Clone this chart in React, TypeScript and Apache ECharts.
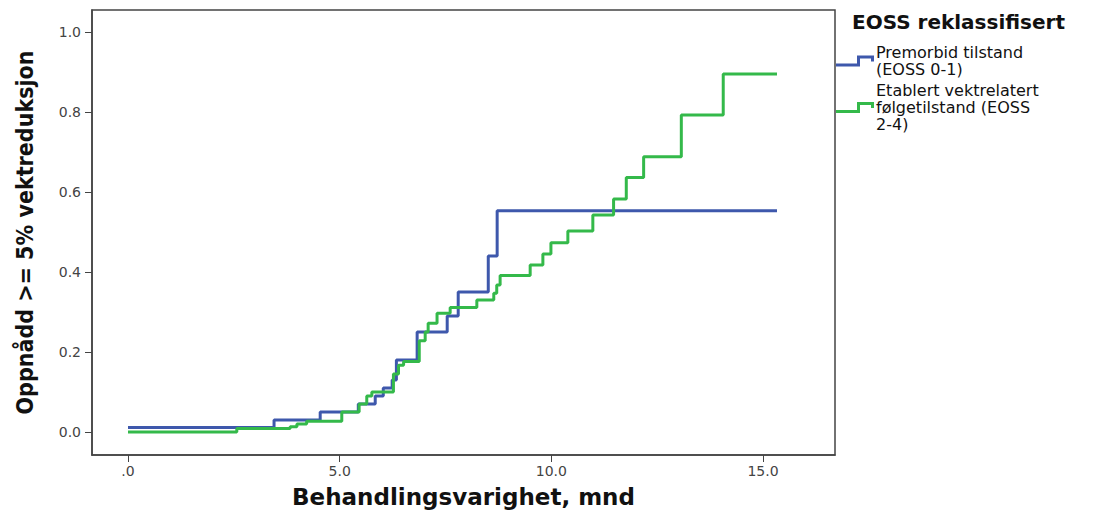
import React, { useEffect, useRef } from "react";
import * as echarts from "echarts";

// Premorbid tilstand (EOSS 0-1): [months, cumulative proportion]
const premorbidTimes = [0, 3.45, 4.54, 5.44, 5.84, 6.03, 6.24, 6.34, 6.83, 7.54, 7.8, 8.51, 8.72, 15.33];
const premorbidValues = [0.011, 0.03, 0.05, 0.07, 0.09, 0.11, 0.13, 0.18, 0.25, 0.29, 0.35, 0.44, 0.553, 0.553];

// Etablert vektrelatert følgetilstand (EOSS 2-4)
const etablertTimes = [0, 2.57, 3.83, 3.99, 4.22, 5.05, 5.46, 5.64, 5.76, 6.27, 6.39, 6.51, 6.88, 7.02, 7.09, 7.3, 7.61, 8.24, 8.64, 8.71, 8.79, 9.5, 9.8, 9.99, 10.39, 10.98, 11.47, 11.77, 12.18, 13.07, 14.06, 15.33];
const etablertValues = [0.0, 0.009, 0.013, 0.02, 0.027, 0.05, 0.07, 0.09, 0.1, 0.145, 0.167, 0.176, 0.228, 0.25, 0.272, 0.297, 0.311, 0.33, 0.347, 0.3675, 0.391, 0.4175, 0.445, 0.473, 0.5025, 0.5425, 0.5825, 0.636, 0.688, 0.7925, 0.895, 0.895];

const xTicks = [0, 5, 10, 15];
const yTicks = [0, 0.2, 0.4, 0.6, 0.8, 1.0];

const seriesNames = ["Premorbid tilstand\n(EOSS 0-1)", "Etablert vektrelatert\nfølgetilstand (EOSS\n2-4)"];
const legendTitle = "EOSS reklassifisert";
const xTitle = "Behandlingsvarighet, mnd";
const yTitle = "Oppnådd >= 5% vektreduksjon";

const stepIcon = "path://M0 9 L21 9 L21 1 L38 1 L38 7 L35 7 L35 4 L24 4 L24 12 L0 12 Z";

export default function App() {
  const ref = useRef<HTMLDivElement>(null);
  useEffect(() => {
    if (!ref.current) return;
    const chart = echarts.init(ref.current, null, { renderer: "svg" });
    const zip = (t: number[], v: number[]) => t.map((x, i) => [x, v[i]]);
    chart.setOption({
      animation: false,
      backgroundColor: "#fff",
      title: {
        text: legendTitle,
        left: 847,
        top: 7,
        textStyle: { fontFamily: "DejaVu Sans", fontWeight: "bold", fontSize: 20, color: "#111" },
      },
      legend: {
        orient: "vertical",
        left: 836,
        top: 44,
        itemWidth: 38,
        itemHeight: 12,
        itemGap: 4,
        icon: stepIcon,
        padding: 0,
        textStyle: { fontFamily: "DejaVu Sans", fontSize: 16, lineHeight: 17, color: "#111", padding: [0, 0, 0, -3] },
        data: seriesNames,
      },
      grid: {
        left: 92,
        right: 266,
        top: 10,
        bottom: 59,
        show: true,
        borderColor: "#444",
        borderWidth: 1.5,
        containLabel: false,
        outerBoundsMode: "none",
      },
      xAxis: {
        type: "value",
        min: -0.85,
        max: 16.7,
        name: xTitle,
        nameLocation: "middle",
        nameGap: 30,
        nameTextStyle: { fontFamily: "DejaVu Sans", fontWeight: "bold", fontSize: 23, color: "#111" },
        axisLine: { show: true, onZero: false, lineStyle: { color: "#444", width: 1.5 } },
        axisTick: { show: true, length: 7, customValues: xTicks, lineStyle: { color: "#444" } },
        axisLabel: {
          customValues: xTicks,
          margin: 9,
          fontFamily: "DejaVu Sans",
          fontSize: 14,
          color: "#444",
          formatter: (v: number) => (v === 0 ? ".0" : v.toFixed(1)),
        },
        splitLine: { show: false },
      },
      yAxis: {
        type: "value",
        min: -0.0575,
        max: 1.055,
        name: yTitle,
        nameLocation: "middle",
        nameGap: 56,
        nameTextStyle: { fontFamily: "DejaVu Sans Condensed", fontWeight: "bold", fontSize: 23, color: "#111" },
        axisLine: { show: true, onZero: false, lineStyle: { color: "#444", width: 1.5 } },
        axisTick: { show: true, length: 7, customValues: yTicks, lineStyle: { color: "#444" } },
        axisLabel: {
          customValues: yTicks,
          margin: 11,
          fontFamily: "DejaVu Sans",
          fontSize: 14,
          color: "#444",
          formatter: (v: number) => v.toFixed(1),
        },
        splitLine: { show: false },
      },
      series: [
        {
          name: seriesNames[0],
          type: "line",
          step: "end",
          showSymbol: false,
          color: "#3e58ac",
          lineStyle: { width: 3, color: "#3e58ac" },
          itemStyle: { color: "#3e58ac" },
          data: zip(premorbidTimes, premorbidValues),
        },
        {
          name: seriesNames[1],
          type: "line",
          step: "end",
          showSymbol: false,
          color: "#34b94a",
          lineStyle: { width: 3, color: "#34b94a" },
          itemStyle: { color: "#34b94a" },
          data: zip(etablertTimes, etablertValues),
        },
      ],
    });
    return () => chart.dispose();
  }, []);
  return <div ref={ref} style={{ position: "fixed", left: 0, top: 0, width: 1101, height: 514 }} />;
}
